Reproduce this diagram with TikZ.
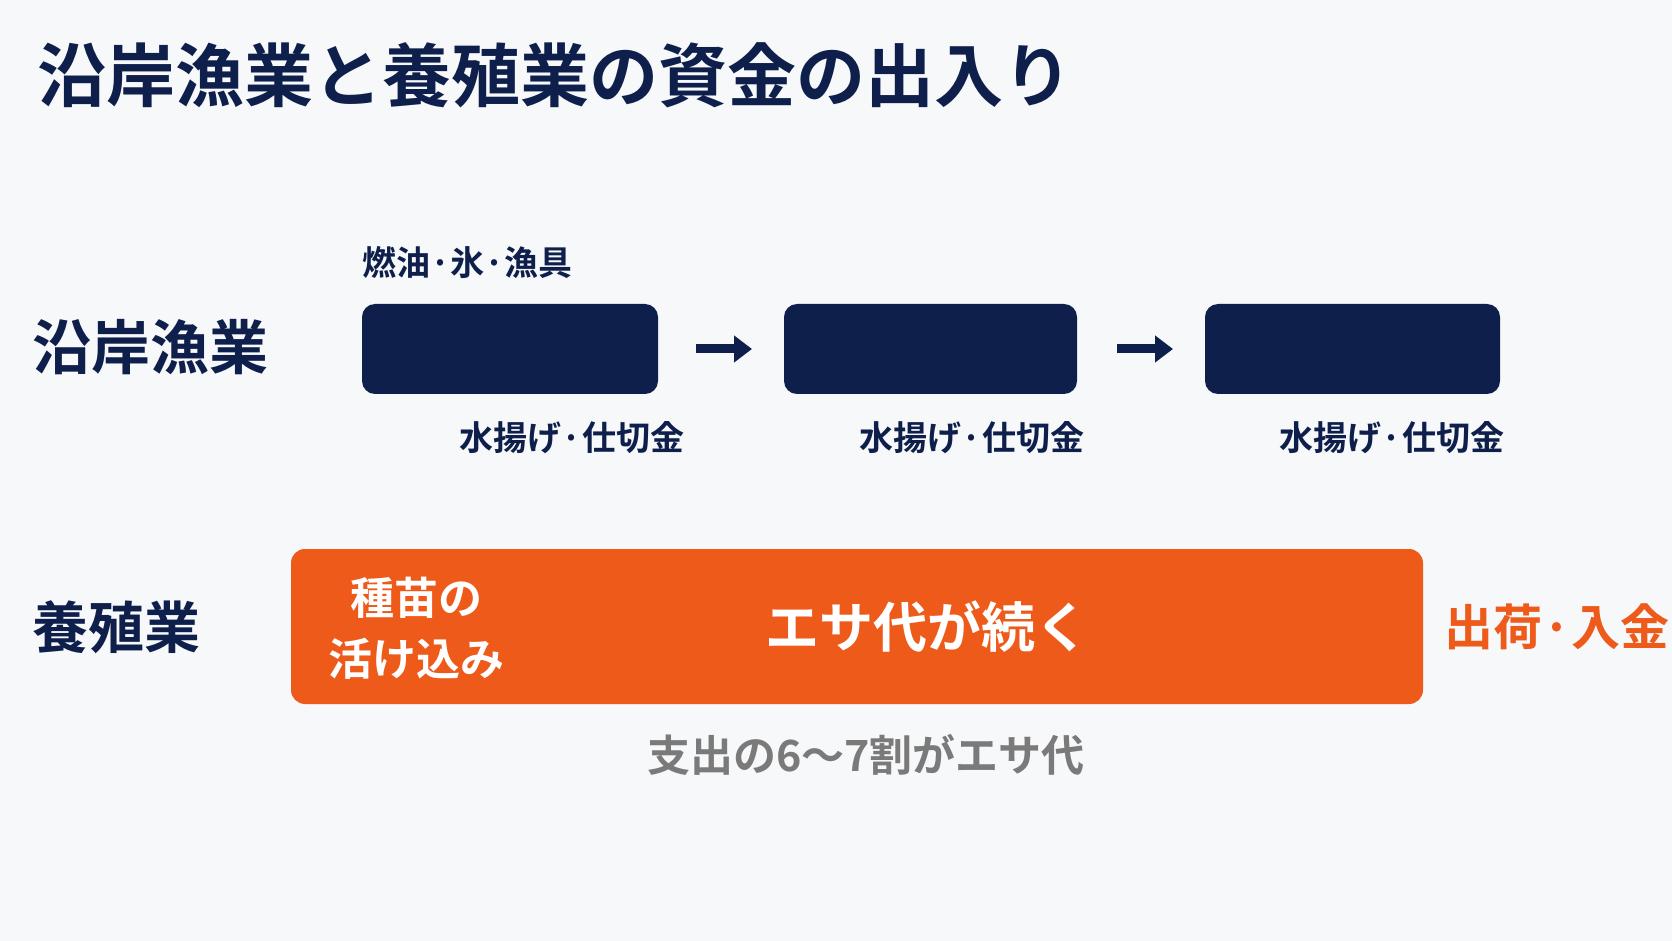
\documentclass[tikz,border=0pt]{standalone}
\usepackage{fontspec}
\newfontfamily\cjk{Noto Sans CJK JP}[BoldFont=* Bold]
\usetikzlibrary{arrows.meta}
\definecolor{navy}{HTML}{0F1F4B}
\definecolor{org}{HTML}{EE5A1A}
\definecolor{gr}{HTML}{7A7A7A}
\definecolor{bg}{HTML}{F7F8FA}
\begin{document}
\begin{tikzpicture}[x=0.5pt,y=-0.5pt,
  txt/.style={font=\cjk\bfseries, inner sep=0pt},
  nbox/.style={fill=navy, rounded corners=6.5pt},
  arr/.style={navy, line width=4.5pt, -{Triangle[length=9pt,width=13pt]}},
  lbl/.style={txt, font=\cjk\bfseries\fontsize{17}{20}\selectfont, text=navy}]
\fill[bg] (0,0) rectangle (1672,941);
\useasboundingbox (0,0) rectangle (1672,941);
\node[txt, anchor=west, text=navy, font=\cjk\bfseries\fontsize{34.5}{38}\selectfont] (title) at (37,75) {沿岸漁業と養殖業の資金の出入り};
\node[txt, anchor=west, text=navy, font=\cjk\bfseries\fontsize{29.5}{34}\selectfont] (l1) at (32,347) {沿岸漁業};
\node[txt, anchor=west, text=navy, font=\cjk\bfseries\fontsize{28}{34}\selectfont] (l2) at (32,627) {養殖業};
\node[nbox, minimum width=148pt, minimum height=45pt, inner sep=0pt] (b1) at (510,349) {};
\node[nbox, minimum width=146.5pt, minimum height=45pt, inner sep=0pt] (b2) at (930.5,349) {};
\node[nbox, minimum width=147.5pt, minimum height=45pt, inner sep=0pt] (b3) at (1352.5,349) {};
\coordinate (a1s) at (696,349); \coordinate (a1e) at (752,349);
\coordinate (a2s) at (1117,349); \coordinate (a2e) at (1173,349);
\draw[arr] (a1s) -- (a1e);
\draw[arr] (a2s) -- (a2e);
\node[lbl, anchor=west] (fuel) at (362,263) {燃油·氷·漁具};
\node[lbl] (w1) at (572,438) {水揚げ·仕切金};
\node[lbl] (w2) at (972,438) {水揚げ·仕切金};
\node[lbl] (w3) at (1392,438) {水揚げ·仕切金};
\node[fill=org, rounded corners=7pt, minimum width=566pt, minimum height=77.5pt, inner sep=0pt] (bar) at (857,626.5) {};
\node[txt, text=white, align=center, font=\cjk\bfseries\fontsize{22}{30.5}\selectfont] (seed) at (416,628) {種苗の\\活け込み};
\node[txt, text=white, font=\cjk\bfseries\fontsize{27}{32}\selectfont] (esa) at (927,627) {エサ代が続く};
\node[txt, text=org, anchor=west, font=\cjk\bfseries\fontsize{24.5}{30}\selectfont] (ship) at (1444,627) {出荷·入金};
\node[txt, text=gr, font=\cjk\bfseries\fontsize{21.5}{26}\selectfont] (note) at (866,755) {支出の6〜7割がエサ代};
\end{tikzpicture}
\end{document}
